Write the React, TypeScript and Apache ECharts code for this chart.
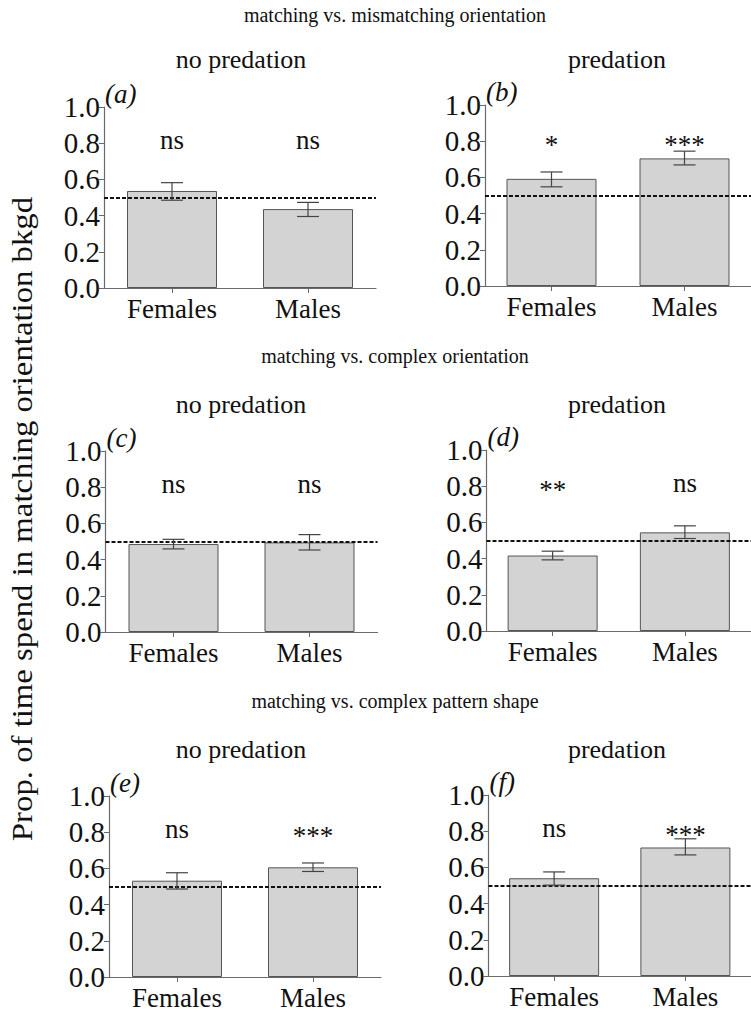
import React, { useEffect, useRef } from "react";
import * as echarts from "echarts";

const categories = ["Females", "Males"];
const panelLetters = ["(a)", "(b)", "(c)", "(d)", "(e)", "(f)"];
const rowTitles = [
  "matching vs. mismatching orientation",
  "matching vs. complex orientation",
  "matching vs. complex pattern shape",
];
const colTitles = ["no predation", "predation"];
const yTicks = [0, 0.2, 0.4, 0.6, 0.8, 1.0];
const chanceLevel = 0.5;

const femaleMeans = [0.536, 0.592, 0.486, 0.417, 0.532, 0.54];
const femaleLow = [0.485, 0.548, 0.459, 0.393, 0.486, 0.502];
const femaleHigh = [0.582, 0.63, 0.512, 0.441, 0.576, 0.575];
const maleMeans = [0.436, 0.705, 0.495, 0.545, 0.606, 0.71];
const maleLow = [0.395, 0.669, 0.453, 0.511, 0.583, 0.669];
const maleHigh = [0.473, 0.745, 0.538, 0.581, 0.63, 0.758];
const femaleSig = ["ns", "*", "ns", "**", "ns", "ns"];
const maleSig = ["ns", "***", "ns", "ns", "***", "***"];
const sigLevel = 0.8;

const FONT = "Liberation Serif";

export default function App() {
  const ref = useRef<HTMLDivElement>(null);

  useEffect(() => {
    document.body.style.margin = "0";
    if (!ref.current) return;
    const chart = echarts.init(ref.current, undefined, { renderer: "svg" });

    const lefts = [104, 485, 105.5, 486.5, 109, 488.5];
    const tops = [107, 105, 451, 450, 796, 795];
    const gridW = 272;
    const gridH = 181;

    const grids: any[] = [];
    const xAxes: any[] = [];
    const yAxes: any[] = [];
    const series: any[] = [];
    const graphics: any[] = [];

    for (let p = 0; p < 6; p++) {
      grids.push({ left: lefts[p], top: tops[p], width: gridW, height: gridH });
      xAxes.push({
        type: "category",
        gridIndex: p,
        data: categories,
        axisLine: { show: true, lineStyle: { color: "#6a6a6a", width: 1.2 } },
        axisTick: { show: true, alignWithLabel: true, length: 5, lineStyle: { color: "#6a6a6a" } },
        axisLabel: { color: "#111", fontFamily: FONT, fontSize: 27, margin: 7 },
        splitLine: { show: false },
      });
      yAxes.push({
        type: "value",
        gridIndex: p,
        min: yTicks[0],
        max: yTicks[yTicks.length - 1],
        interval: 0.2,
        axisLine: { show: true, lineStyle: { color: "#6a6a6a", width: 1.2 } },
        axisTick: { show: true, length: 5, lineStyle: { color: "#6a6a6a" } },
        axisLabel: {
          color: "#111",
          fontFamily: FONT,
          fontSize: 29,
          margin: 4,
          formatter: (v: number) => v.toFixed(1),
        },
        splitLine: { show: false },
      });

      series.push({
        type: "bar",
        xAxisIndex: p,
        yAxisIndex: p,
        barWidth: 90,
        data: [femaleMeans[p], maleMeans[p]],
        itemStyle: { color: "#d3d3d3", borderColor: "#555", borderWidth: 1 },
        markLine: {
          silent: true,
          symbol: "none",
          label: { show: false },
          lineStyle: { color: "#111", type: [4, 2], width: 2 },
          data: [{ yAxis: chanceLevel }],
        },
        z: 2,
      });

      const errData = [
        [0, femaleLow[p], femaleHigh[p]],
        [1, maleLow[p], maleHigh[p]],
      ];
      series.push({
        type: "custom",
        xAxisIndex: p,
        yAxisIndex: p,
        data: errData,
        z: 5,
        renderItem: (params: any, api: any) => {
          const x = api.value(0);
          const lo = api.coord([x, api.value(1)]);
          const hi = api.coord([x, api.value(2)]);
          const cap = 11;
          const style = { stroke: "#444", lineWidth: 1.2 };
          return {
            type: "group",
            children: [
              { type: "line", shape: { x1: lo[0], y1: lo[1], x2: hi[0], y2: hi[1] }, style },
              { type: "line", shape: { x1: hi[0] - cap, y1: hi[1], x2: hi[0] + cap, y2: hi[1] }, style },
              { type: "line", shape: { x1: lo[0] - cap, y1: lo[1], x2: lo[0] + cap, y2: lo[1] }, style },
            ],
          };
        },
      });

      const sigs = [femaleSig[p], maleSig[p]];
      series.push({
        type: "custom",
        xAxisIndex: p,
        yAxisIndex: p,
        data: [
          [0, sigLevel],
          [1, sigLevel],
        ],
        z: 6,
        renderItem: (params: any, api: any) => {
          const pt = api.coord([api.value(0), api.value(1)]);
          const txt = sigs[params.dataIndex];
          const isStar = txt.indexOf("*") >= 0;
          return {
            type: "text",
            x: pt[0],
            y: pt[1] + (isStar ? 4 : -3),
            style: {
              text: txt,
              fill: "#111",
              fontFamily: FONT,
              fontSize: 27,
              align: "center",
              verticalAlign: "middle",
            },
          };
        },
      });

      graphics.push({
        type: "text",
        x: lefts[p] + 1,
        y: tops[p] - 13,
        style: {
          text: panelLetters[p],
          fill: "#111",
          fontFamily: FONT,
          fontStyle: "italic",
          fontSize: 27,
          textAlign: "left",
          textVerticalAlign: "middle",
        },
      });
    }

    const mainY = [15, 356, 701];
    const subY = [59, 404, 749];
    for (let r = 0; r < 3; r++) {
      graphics.push({
        type: "text",
        x: 395,
        y: mainY[r],
        style: {
          text: rowTitles[r],
          fill: "#111",
          fontFamily: FONT,
          fontSize: 20,
          textAlign: "center",
          textVerticalAlign: "middle",
        },
      });
      graphics.push({
        type: "text",
        x: 241,
        y: subY[r],
        style: {
          text: colTitles[0],
          fill: "#111",
          fontFamily: FONT,
          fontSize: 26,
          textAlign: "center",
          textVerticalAlign: "middle",
        },
      });
      graphics.push({
        type: "text",
        x: 617,
        y: subY[r],
        style: {
          text: colTitles[1],
          fill: "#111",
          fontFamily: FONT,
          fontSize: 26,
          textAlign: "center",
          textVerticalAlign: "middle",
        },
      });
    }

    graphics.push({
      type: "text",
      x: 22,
      y: 519,
      rotation: Math.PI / 2,
      scaleX: 1.13,
      style: {
        text: "Prop. of time spend in matching orientation bkgd",
        fill: "#111",
        fontFamily: FONT,
        fontSize: 29,
        textAlign: "center",
        textVerticalAlign: "middle",
      },
    });

    chart.setOption({
      animation: false,
      backgroundColor: "#fff",
      grid: grids,
      xAxis: xAxes,
      yAxis: yAxes,
      series,
      graphic: graphics,
    });

    return () => {
      chart.dispose();
    };
  }, []);

  return <div ref={ref} style={{ width: 751, height: 1012 }} />;
}
